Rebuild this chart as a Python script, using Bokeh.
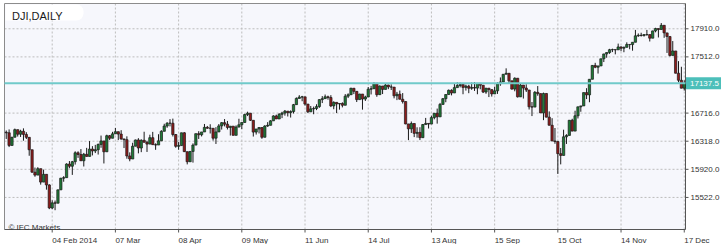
import pandas as pd
from bokeh.plotting import figure
from bokeh.models import ColumnDataSource, BoxAnnotation, Range1d, Label
from bokeh.core.properties import value
from bokeh.embed import file_html
from bokeh.resources import INLINE

# ---------------- data ----------------
symbol_title = "DJI,DAILY"
copyright_text = "© IFC Markets"
holidays = ["2014-01-20", "2014-02-17", "2014-04-18", "2014-05-26",
            "2014-07-04", "2014-09-01", "2014-11-27"]
dates = [d for d in pd.bdate_range("2014-01-10", "2014-12-17")
         if d.strftime("%Y-%m-%d") not in holidays]

opens = [16445,16437,16258,16374,16482,16417,16459,16414,16373,16197,
         15879,15838,15929,15739,15849,15699,15373,15445,15440,15629,
         15794,15802,15995,15964,16028,16154,16130,16041,16133,16103,
         16207,16180,16198,16273,16322,16168,16396,16360,16422,16453,
         16419,16351,16340,16109,16066,16247,16336,16222,16331,16303,
         16277,16368,16269,16264,16323,16458,16533,16573,16573,16413,
         16246,16256,16437,16170,16027,16173,16263,16425,16409,16449,
         16514,16502,16501,16361,16449,16535,16581,16559,16513,16531,
         16401,16519,16551,16583,16695,16715,16614,16447,16491,16512,
         16374,16533,16543,16606,16676,16633,16699,16717,16744,16722,
         16738,16836,16924,16943,16946,16844,16734,16776,16781,16808,
         16907,16921,16947,16937,16818,16868,16846,16852,16827,16956,
         16976,17068,17024,16907,16986,16915,16944,17055,17061,17138,
         16977,17100,17052,17114,17087,17084,16961,16983,16912,16880,
         16563,16493,16569,16429,16443,16368,16554,16570,16561,16652,
         16714,16663,16839,16920,16979,17039,17001,17077,17107,17122,
         17080,17098,17068,17078,17070,17137,17111,17014,17069,17049,
         16988,17031,17132,17157,17266,17280,17173,17056,17210,16946,
         17113,17071,17043,16805,16801,17010,16992,16719,16994,16659,
         16544,16321,16315,16142,16117,16380,16400,16615,16461,16678,
         16805,16818,17006,16974,17195,17391,17366,17384,17485,17554,
         17574,17614,17615,17612,17653,17635,17648,17688,17686,17719,
         17810,17818,17815,17828,17828,17777,17880,17913,17900,17959,
         17852,17801,17533,17596,17281,17181,17069]
highs = [16470,16485,16380,16497,16482,16480,16500,16446,16373,16197,
         15945,15950,15929,15916,15849,15708,15481,15478,15632,15799,
         15823,16005,16037,16039,16175,16175,16207,16152,16224,16320,
         16248,16266,16284,16398,16322,16410,16406,16451,16505,16453,
         16474,16351,16387,16160,16296,16340,16361,16345,16452,16324,
         16410,16450,16288,16417,16474,16565,16588,16631,16638,16418,
         16306,16438,16446,16170,16175,16287,16425,16460,16449,16562,
         16534,16558,16501,16517,16561,16588,16632,16605,16531,16531,
         16542,16636,16583,16707,16736,16715,16614,16491,16515,16512,
         16545,16588,16615,16685,16694,16716,16735,16760,16744,16755,
         16846,16938,16970,16960,16946,16844,16817,16808,16841,16911,
         16957,16979,16963,16970,16883,16868,16852,16869,16985,16996,
         17074,17068,17024,16989,16986,16962,17086,17102,17151,17138,
         17107,17100,17140,17118,17123,17084,17016,17035,17000,16880,
         16563,16597,16569,16515,16516,16562,16648,16570,16679,16714,
         16780,16860,16930,16980,17050,17053,17130,17154,17148,17122,
         17119,17117,17150,17156,17138,17138,17111,17072,17069,17049,
         17090,17153,17221,17268,17350,17280,17173,17222,17210,17135,
         17113,17124,17043,16873,17028,17099,16992,17006,16994,16740,
         16644,16505,16315,16222,16481,16417,16615,16636,16750,16805,
         16818,17006,17069,17196,17395,17428,17386,17485,17555,17574,
         17626,17629,17615,17700,17661,17658,17718,17688,17719,17894,
         17844,17854,17831,17894,17828,17883,17924,17913,17991,17959,
         17852,17801,17736,17596,17452,17372,17180]
lows = [16350,16235,16258,16374,16384,16378,16325,16349,16112,15873,
        15815,15838,15703,15739,15632,15356,15356,15341,15440,15629,
        15744,15802,15935,15841,15987,16082,16038,15960,16101,16103,
        16117,16150,16129,16225,16003,16168,16335,16360,16422,16334,
        16338,16221,16070,16034,16066,16247,16146,16163,16300,16166,
        16277,16268,16196,16264,16323,16458,16508,16528,16385,16226,
        16197,16256,16165,15990,16027,16015,16263,16350,16386,16449,
        16494,16427,16327,16279,16449,16483,16528,16484,16398,16399,
        16401,16513,16489,16583,16674,16605,16384,16412,16428,16352,
        16374,16521,16543,16606,16633,16633,16645,16680,16668,16653,
        16711,16836,16924,16884,16822,16716,16734,16700,16758,16791,
        16858,16921,16906,16801,16771,16717,16765,16797,16827,16929,
        16976,16985,16873,16907,16765,16888,16944,16980,17061,16947,
        16977,16986,17052,17055,17043,16925,16900,16912,16852,16558,
        16333,16435,16376,16368,16334,16368,16554,16498,16561,16628,
        16567,16663,16839,16870,16979,16967,17001,17077,17080,16983,
        17035,16998,17046,17030,16983,17053,17000,16989,16943,16950,
        16988,16988,17103,17157,17266,17133,17049,17025,16937,16946,
        16922,17015,16767,16674,16801,16962,16719,16616,16657,16542,
        16321,16282,15855,15990,16117,16279,16400,16459,16461,16640,
        16735,16818,16915,16870,17195,17352,17276,17384,17439,17500,
        17555,17580,17548,17612,17593,17578,17645,17620,17600,17719,
        17796,17800,17799,17811,17730,17777,17860,17787,17900,17782,
        17568,17518,17533,17279,17151,17068,17035]
closes = [16437,16258,16374,16482,16417,16459,16414,16373,16197,15879,
          15838,15929,15739,15849,15699,15373,15445,15440,15629,15794,
          15802,15995,15964,16028,16154,16130,16041,16133,16103,16207,
          16180,16198,16273,16322,16168,16396,16360,16422,16453,16419,
          16351,16340,16109,16066,16247,16336,16222,16331,16303,16277,
          16368,16269,16264,16323,16458,16533,16573,16573,16413,16246,
          16256,16437,16170,16027,16173,16263,16425,16409,16449,16514,
          16502,16501,16361,16449,16535,16581,16559,16513,16531,16401,
          16519,16551,16583,16695,16715,16614,16447,16491,16512,16374,
          16533,16543,16606,16676,16633,16699,16717,16744,16722,16738,
          16836,16924,16943,16946,16844,16734,16776,16781,16808,16907,
          16921,16947,16937,16818,16868,16846,16852,16827,16956,16976,
          17068,17024,16907,16986,16915,16944,17055,17061,17138,16977,
          17100,17052,17114,17087,17084,16961,16983,16912,16880,16563,
          16493,16569,16429,16443,16368,16554,16570,16561,16652,16714,
          16663,16839,16920,16979,17039,17001,17077,17107,17122,17080,
          17098,17068,17078,17070,17137,17111,17014,17069,17049,16988,
          17031,17132,17157,17266,17280,17173,17056,17210,16946,17113,
          17071,17043,16805,16801,17010,16992,16719,16994,16659,16544,
          16321,16315,16142,16117,16380,16400,16615,16461,16678,16805,
          16818,17006,16974,17195,17391,17366,17384,17485,17554,17574,
          17614,17615,17612,17653,17635,17648,17688,17686,17719,17810,
          17818,17815,17828,17828,17777,17880,17913,17900,17959,17852,
          17801,17533,17596,17281,17181,17069,17138]

last_price = 17137.5
price_ticks = [15522, 15920, 16318, 16716, 17512, 17910]
price_labels = ["15522.0", "15920.0", "16318.0", "16716.0", "17512.0", "17910.0"]
tick_dates = ["2014-02-04", "2014-03-07", "2014-04-08", "2014-05-09", "2014-06-11",
              "2014-07-14", "2014-08-13", "2014-09-15", "2014-10-15", "2014-11-14",
              "2014-12-17"]
tick_labels = ["04 Feb 2014", "07 Mar", "08 Apr", "09 May", "11 Jun", "14 Jul",
               "13 Aug", "15 Sep", "15 Oct", "14 Nov", "17 Dec"]

# ---------------- layout (pixels -> data) ----------------
W, H = 725, 244
PX_PER_BAR = 2.873          # horizontal scale of the price panel
UNITS_PER_PX = 14.16        # vertical scale of the price panel
X_LEFT = -0.6               # data x at the panel's left edge (canvas x = 4)
Y_TOP = 18268.0             # data y at the panel's top edge (canvas y = 3)
PANEL_L, PANEL_T, PANEL_W, PANEL_H = 4, 3, 681, 226

def dx(px):
    return px / PX_PER_BAR

def dy(px):
    return px * UNITS_PER_PX

X_RIGHT = X_LEFT + dx(PANEL_W)
Y_BOT = Y_TOP - dy(PANEL_H)

n = min(len(dates), len(closes))
idx = list(range(n))
date_str = [d.strftime("%Y-%m-%d") for d in dates[:n]]
tick_idx = [date_str.index(t) for t in tick_dates]

BULL = "#1E7B36"
BEAR = "#8E1B1B"
src = ColumnDataSource(dict(
    x=idx,
    o=opens[:n], h=highs[:n], l=lows[:n], c=closes[:n],
    top=[max(a, b) for a, b in zip(opens[:n], closes[:n])],
    bot=[min(a, b) for a, b in zip(opens[:n], closes[:n])],
    col=[BULL if c >= o else BEAR for o, c in zip(opens[:n], closes[:n])],
))

FONT = value("Liberation Sans")
TXT = "#333333"

p = figure(width=W, height=H,
           x_range=Range1d(X_LEFT - dx(PANEL_L), X_LEFT + dx(W - PANEL_L)),
           y_range=Range1d(Y_TOP - dy(H - PANEL_T), Y_TOP + dy(PANEL_T)),
           x_axis_location=None, y_axis_location=None,
           output_backend="svg", toolbar_location=None,
           min_border=0, min_border_left=0, min_border_right=0,
           min_border_top=0, min_border_bottom=0,
           background_fill_color="white", border_fill_color="white",
           outline_line_color=None)
p.grid.visible = False

# price panel background
p.quad(left=[X_LEFT], right=[X_RIGHT], bottom=[Y_BOT], top=[Y_TOP],
       fill_color="#F6F7FC", line_color=None)

# dashed grid
p.segment(x0=tick_idx, y0=[Y_BOT] * len(tick_idx), x1=tick_idx, y1=[Y_TOP] * len(tick_idx),
          line_color="#BDBDBD", line_dash="2 2", line_width=1)
p.segment(x0=[X_LEFT] * len(price_ticks), y0=price_ticks,
          x1=[X_RIGHT] * len(price_ticks), y1=price_ticks,
          line_color="#BDBDBD", line_dash="2 2", line_width=1)

# panel frame: light left/top, darker axis lines bottom/right
p.segment(x0=[X_LEFT, X_LEFT], y0=[Y_BOT, Y_TOP], x1=[X_LEFT, X_RIGHT], y1=[Y_TOP, Y_TOP],
          line_color="#8C8C8C", line_width=1)
p.segment(x0=[X_LEFT, X_RIGHT], y0=[Y_BOT, Y_BOT], x1=[X_RIGHT, X_RIGHT], y1=[Y_BOT, Y_TOP],
          line_color="#555555", line_width=1)

# ticks
p.segment(x0=tick_idx, y0=[Y_BOT] * len(tick_idx), x1=tick_idx,
          y1=[Y_BOT - dy(3)] * len(tick_idx), line_color="#555555", line_width=1)
p.segment(x0=[X_RIGHT] * len(price_ticks), y0=price_ticks,
          x1=[X_RIGHT + dx(3)] * len(price_ticks), y1=price_ticks,
          line_color="#555555", line_width=1)

# tick labels
p.text(x=tick_idx, y=[Y_BOT - dy(10.5)] * len(tick_idx), text=tick_labels,
       text_font=FONT, text_font_size=value("8px"), text_color=TXT,
       text_align="left", text_baseline="alphabetic")
p.text(x=[X_RIGHT + dx(5)] * len(price_ticks), y=price_ticks, text=price_labels,
       text_font=FONT, text_font_size=value("8px"), text_color=TXT,
       text_align="left", text_baseline="middle")

# candles
p.segment(x0="x", y0="l", x1="x", y1="h", source=src, line_color="#1a1a1a", line_width=1)
p.vbar(x="x", width=0.8, top="top", bottom="bot", source=src,
       fill_color="col", line_color="#1a1a1a", line_width=0.7)

# current price line and tag
p.segment(x0=[X_LEFT], y0=[last_price], x1=[X_RIGHT], y1=[last_price],
          line_color="#70CACA", line_width=2)
p.quad(left=[X_RIGHT + dx(0.5)], right=[X_RIGHT + dx(35.5)],
       bottom=[last_price - dy(6)], top=[last_price + dy(6)],
       fill_color="#4CBFBA", line_color=None)
p.text(x=[X_RIGHT + dx(4.5)], y=[last_price], text=[f"{last_price:.1f}"],
       text_font=FONT, text_font_size=value("8px"), text_color="white",
       text_align="left", text_baseline="middle")

# copyright
p.text(x=[X_LEFT + dx(4)], y=[Y_BOT + dy(2.3)], text=[copyright_text],
       text_font=FONT, text_font_size=value("8px"), text_color=TXT,
       text_align="left", text_baseline="alphabetic")

# title box and title (annotations, drawn above the price panel)
p.add_layout(BoxAnnotation(left=5, right=83, top=H - 4, bottom=H - 20,
                           left_units="screen", right_units="screen",
                           top_units="screen", bottom_units="screen",
                           fill_color="white", fill_alpha=1.0, line_color=None,
                           border_radius=(0, 7, 7, 0)))
p.add_layout(Label(x=11.5, y=H - 15.8, x_units="screen", y_units="screen",
                   text=symbol_title, text_font="Liberation Sans", text_font_size="11px",
                   text_color="#1a1a1a", text_baseline="alphabetic", text_align="left"))

open("out.html", "w").write(file_html(p, INLINE))
